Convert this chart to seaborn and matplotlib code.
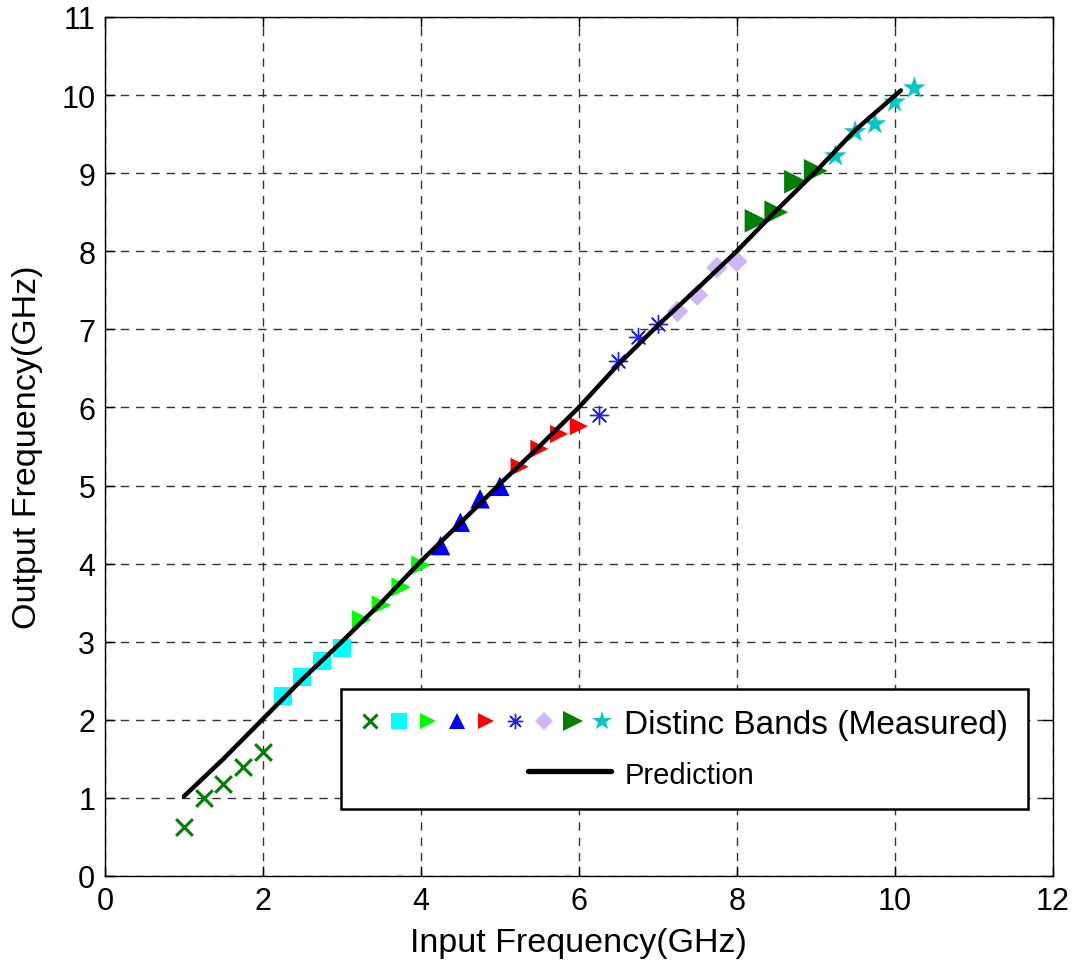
import numpy as np
import pandas as pd
import matplotlib
matplotlib.use("Agg")
import matplotlib.pyplot as plt
import seaborn as sns
from matplotlib.lines import Line2D
from matplotlib.legend_handler import HandlerTuple, HandlerLine2D

# -------------------- DATA --------------------
band_x = [1.0, 1.25, 1.5, 1.75, 2.0]
band_x_y = [0.63, 1.0, 1.18, 1.40, 1.59]

band_sq = [2.25, 2.5, 2.75, 3.0]
band_sq_y = [2.30, 2.55, 2.75, 2.92]

band_lime = [3.25, 3.5, 3.75, 4.0]
band_lime_y = [3.28, 3.47, 3.70, 3.98]

band_blue = [4.25, 4.5, 4.75, 5.0]
band_blue_y = [4.23, 4.53, 4.83, 4.99]

band_red = [5.25, 5.5, 5.75, 6.0]
band_red_y = [5.24, 5.47, 5.66, 5.76]

band_ast = [6.25, 6.5, 6.75, 7.0]
band_ast_y = [5.90, 6.59, 6.90, 7.07]

band_dia = [7.25, 7.5, 7.75, 8.0]
band_dia_y = [7.23, 7.44, 7.79, 7.87]

band_dg = [8.25, 8.5, 8.75, 9.0]
band_dg_y = [8.39, 8.50, 8.89, 9.03]

band_star = [9.25, 9.5, 9.75, 10.0, 10.25]
band_star_y = [9.22, 9.53, 9.63, 9.91, 10.09]

pred_x = [1.0, 1.5, 2.0, 2.5, 3.0, 3.5, 4.0, 4.5, 5.0, 5.5, 6.0, 6.5, 7.0, 7.5, 8.0, 8.5, 9.0, 9.5, 10.08]
pred_y = [1.02, 1.50, 2.01, 2.52, 3.00, 3.50, 4.03, 4.52, 5.02, 5.50, 6.00, 6.55, 7.05, 7.52, 8.00, 8.52, 9.02, 9.55, 10.06]

# (x, y, marker, colour, size, line width)
bands = [
    (band_x, band_x_y, "x", "#008000", 12, 2.2),
    (band_sq, band_sq_y, "s", "#00ffff", 13, 0),
    (band_lime, band_lime_y, ">", "#00ff00", 14, 0),
    (band_blue, band_blue_y, "^", "#0000ff", 14, 0),
    (band_red, band_red_y, ">", "#ff0000", 13, 0),
    (band_ast, band_ast_y, (8, 2, 0), "#2020ff", 13, 1.0),
    (band_dia, band_dia_y, "D", "#d2b4f8", 11, 0),
    (band_dg, band_dg_y, ">", "#008000", 17, 0),
    (band_star, band_star_y, "*", "#00c8c8", 17, 0),
]

# -------------------- PLOT --------------------
sns.set_theme(style="ticks")
plt.rcParams['font.family'] = ['Liberation Sans', 'DejaVu Sans']
plt.rcParams['text.color'] = 'black'
plt.rcParams['axes.labelcolor'] = 'black'

fig = plt.figure(figsize=(10.76, 9.62), dpi=100)
ax = fig.add_axes([0.0976, 0.0884, 0.9782 - 0.0976, 0.9813 - 0.0884])

for xs, ys, mk, col, ms, lw in bands:
    df = pd.DataFrame({"x": xs, "y": ys})
    if lw > 0:
        sns.scatterplot(data=df, x="x", y="y", marker=mk, color=col, s=ms ** 2,
                        linewidth=lw, ax=ax, legend=False, zorder=3)
    else:
        sns.scatterplot(data=df, x="x", y="y", marker=mk, color=col, s=ms ** 2,
                        linewidth=0, edgecolor="none", ax=ax, legend=False, zorder=3)

pred = pd.DataFrame({"x": pred_x, "y": pred_y})
sns.lineplot(data=pred, x="x", y="y", color="black", linewidth=3.2, ax=ax, zorder=4)

ax.set_xlim(0, 12)
ax.set_ylim(0, 11)
ax.set_xticks(range(0, 13, 2))
ax.set_yticks(range(0, 12))
ax.grid(True, linestyle=(0, (6, 5)), color="#333333", linewidth=1.0)
ax.tick_params(direction="in", length=7, width=1, top=True, right=True,
               labelsize=22, colors="black", pad=7)
for sp in ax.spines.values():
    sp.set_color("black")
    sp.set_linewidth(1.0)
ax.set_xlabel("Input Frequency(GHz)", fontsize=24.5, labelpad=8)
ax.set_ylabel("Output Frequency(GHz)", fontsize=24.5, labelpad=13)


class ShortLine(HandlerLine2D):
    def create_artists(self, legend, orig_handle, xdescent, ydescent, width, height, fontsize, trans):
        w = width * 0.33
        return super().create_artists(legend, orig_handle, xdescent - (width - w), ydescent,
                                      w, height, fontsize, trans)


marker_handles = []
for xs, ys, mk, col, ms, lw in bands:
    marker_handles.append(Line2D([], [], linestyle="none", marker=mk, color=col,
                                 markersize=ms * 0.85, markeredgewidth=lw if lw else 0,
                                 markerfacecolor=col))
line_handle = Line2D([], [], color="black", linewidth=3.8)

leg = ax.legend([tuple(marker_handles), line_handle],
                ["Distinc Bands (Measured)", "Prediction"],
                handler_map={tuple: HandlerTuple(ndivide=None, pad=0.3), line_handle: ShortLine()},
                loc="lower left", bbox_to_anchor=(0.249, 0.078), borderaxespad=0,
                fontsize=24, handlelength=7.5, handletextpad=0.4, labelspacing=0.6,
                borderpad=0.6, fancybox=False, framealpha=1, edgecolor="black")
leg.get_frame().set_linewidth(1.8)
leg.get_texts()[1].set_fontsize(21)

fig.savefig("out.png", dpi=100)
